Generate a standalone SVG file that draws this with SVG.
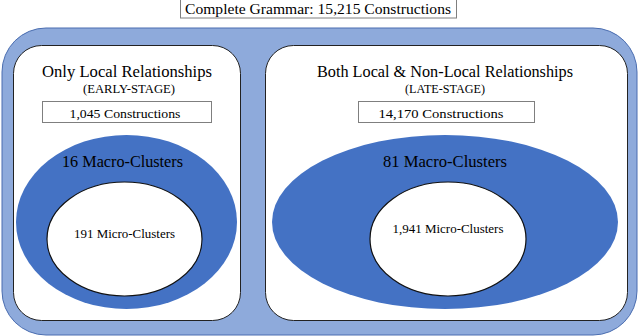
<svg xmlns="http://www.w3.org/2000/svg" width="640" height="336" viewBox="0 0 640 336">
<style>
text{font-family:"Liberation Serif","Times New Roman",serif;fill:#000;text-anchor:middle}
.panel{fill:#fff;stroke:#222;stroke-width:1}
.box{fill:#fff;stroke:#7f7f7f;stroke-width:1}
.macro{fill:#4472c4}
.micro{fill:#fff;stroke:#111;stroke-width:1.2}
.t1{font-size:17px}
.t2{font-size:12.5px}
.t3{font-size:13.5px}
.t4{font-size:17.5px}
</style>
<g id="grammar">
<rect x="180.5" y="-1" width="276" height="19" class="box" stroke="#555"/>
<text x="318" y="14" font-size="15.5" textLength="266" lengthAdjust="spacingAndGlyphs">Complete Grammar: 15,215 Constructions</text>
</g>
<g id="outer">
<rect x="2" y="28" width="635" height="307" rx="44" ry="44" fill="#8eaadb" stroke="#4a6db0" stroke-width="1"/>
</g>
<g id="early">
<rect x="13.5" y="45.5" width="227" height="275" rx="28" ry="28" class="panel"/>
<text x="127" y="77" class="t1" textLength="170" lengthAdjust="spacingAndGlyphs">Only Local Relationships</text>
<text x="129" y="93" class="t2" textLength="92" lengthAdjust="spacingAndGlyphs">(EARLY-STAGE)</text>
<rect x="42.5" y="101.5" width="169" height="21" class="box"/>
<text x="125" y="118" class="t3" textLength="111" lengthAdjust="spacingAndGlyphs">1,045 Constructions</text>
<ellipse cx="126.5" cy="222" rx="110.5" ry="87" class="macro"/>
<text x="122.5" y="167" class="t4" textLength="121" lengthAdjust="spacingAndGlyphs">16 Macro-Clusters</text>
<ellipse cx="124.5" cy="239" rx="77.5" ry="57" class="micro"/>
<text x="124.5" y="238" class="t3" textLength="101" lengthAdjust="spacingAndGlyphs">191 Micro-Clusters</text>
</g>
<g id="late">
<rect x="265.5" y="45.5" width="362" height="275" rx="28" ry="28" class="panel"/>
<text x="445" y="77" class="t1" textLength="256" lengthAdjust="spacingAndGlyphs">Both Local &amp; Non-Local Relationships</text>
<text x="445" y="93" class="t2" textLength="80" lengthAdjust="spacingAndGlyphs">(LATE-STAGE)</text>
<rect x="358.5" y="101.5" width="176" height="21" class="box"/>
<text x="441" y="118" class="t3" textLength="125" lengthAdjust="spacingAndGlyphs">14,170 Constructions</text>
<ellipse cx="445" cy="222" rx="173" ry="87" class="macro"/>
<text x="445" y="167" class="t4" textLength="124" lengthAdjust="spacingAndGlyphs">81 Macro-Clusters</text>
<ellipse cx="448" cy="239" rx="78" ry="57" class="micro"/>
<text x="448" y="233" class="t3" textLength="111" lengthAdjust="spacingAndGlyphs">1,941 Micro-Clusters</text>
</g>
<g id="connectors"></g>
</svg>
